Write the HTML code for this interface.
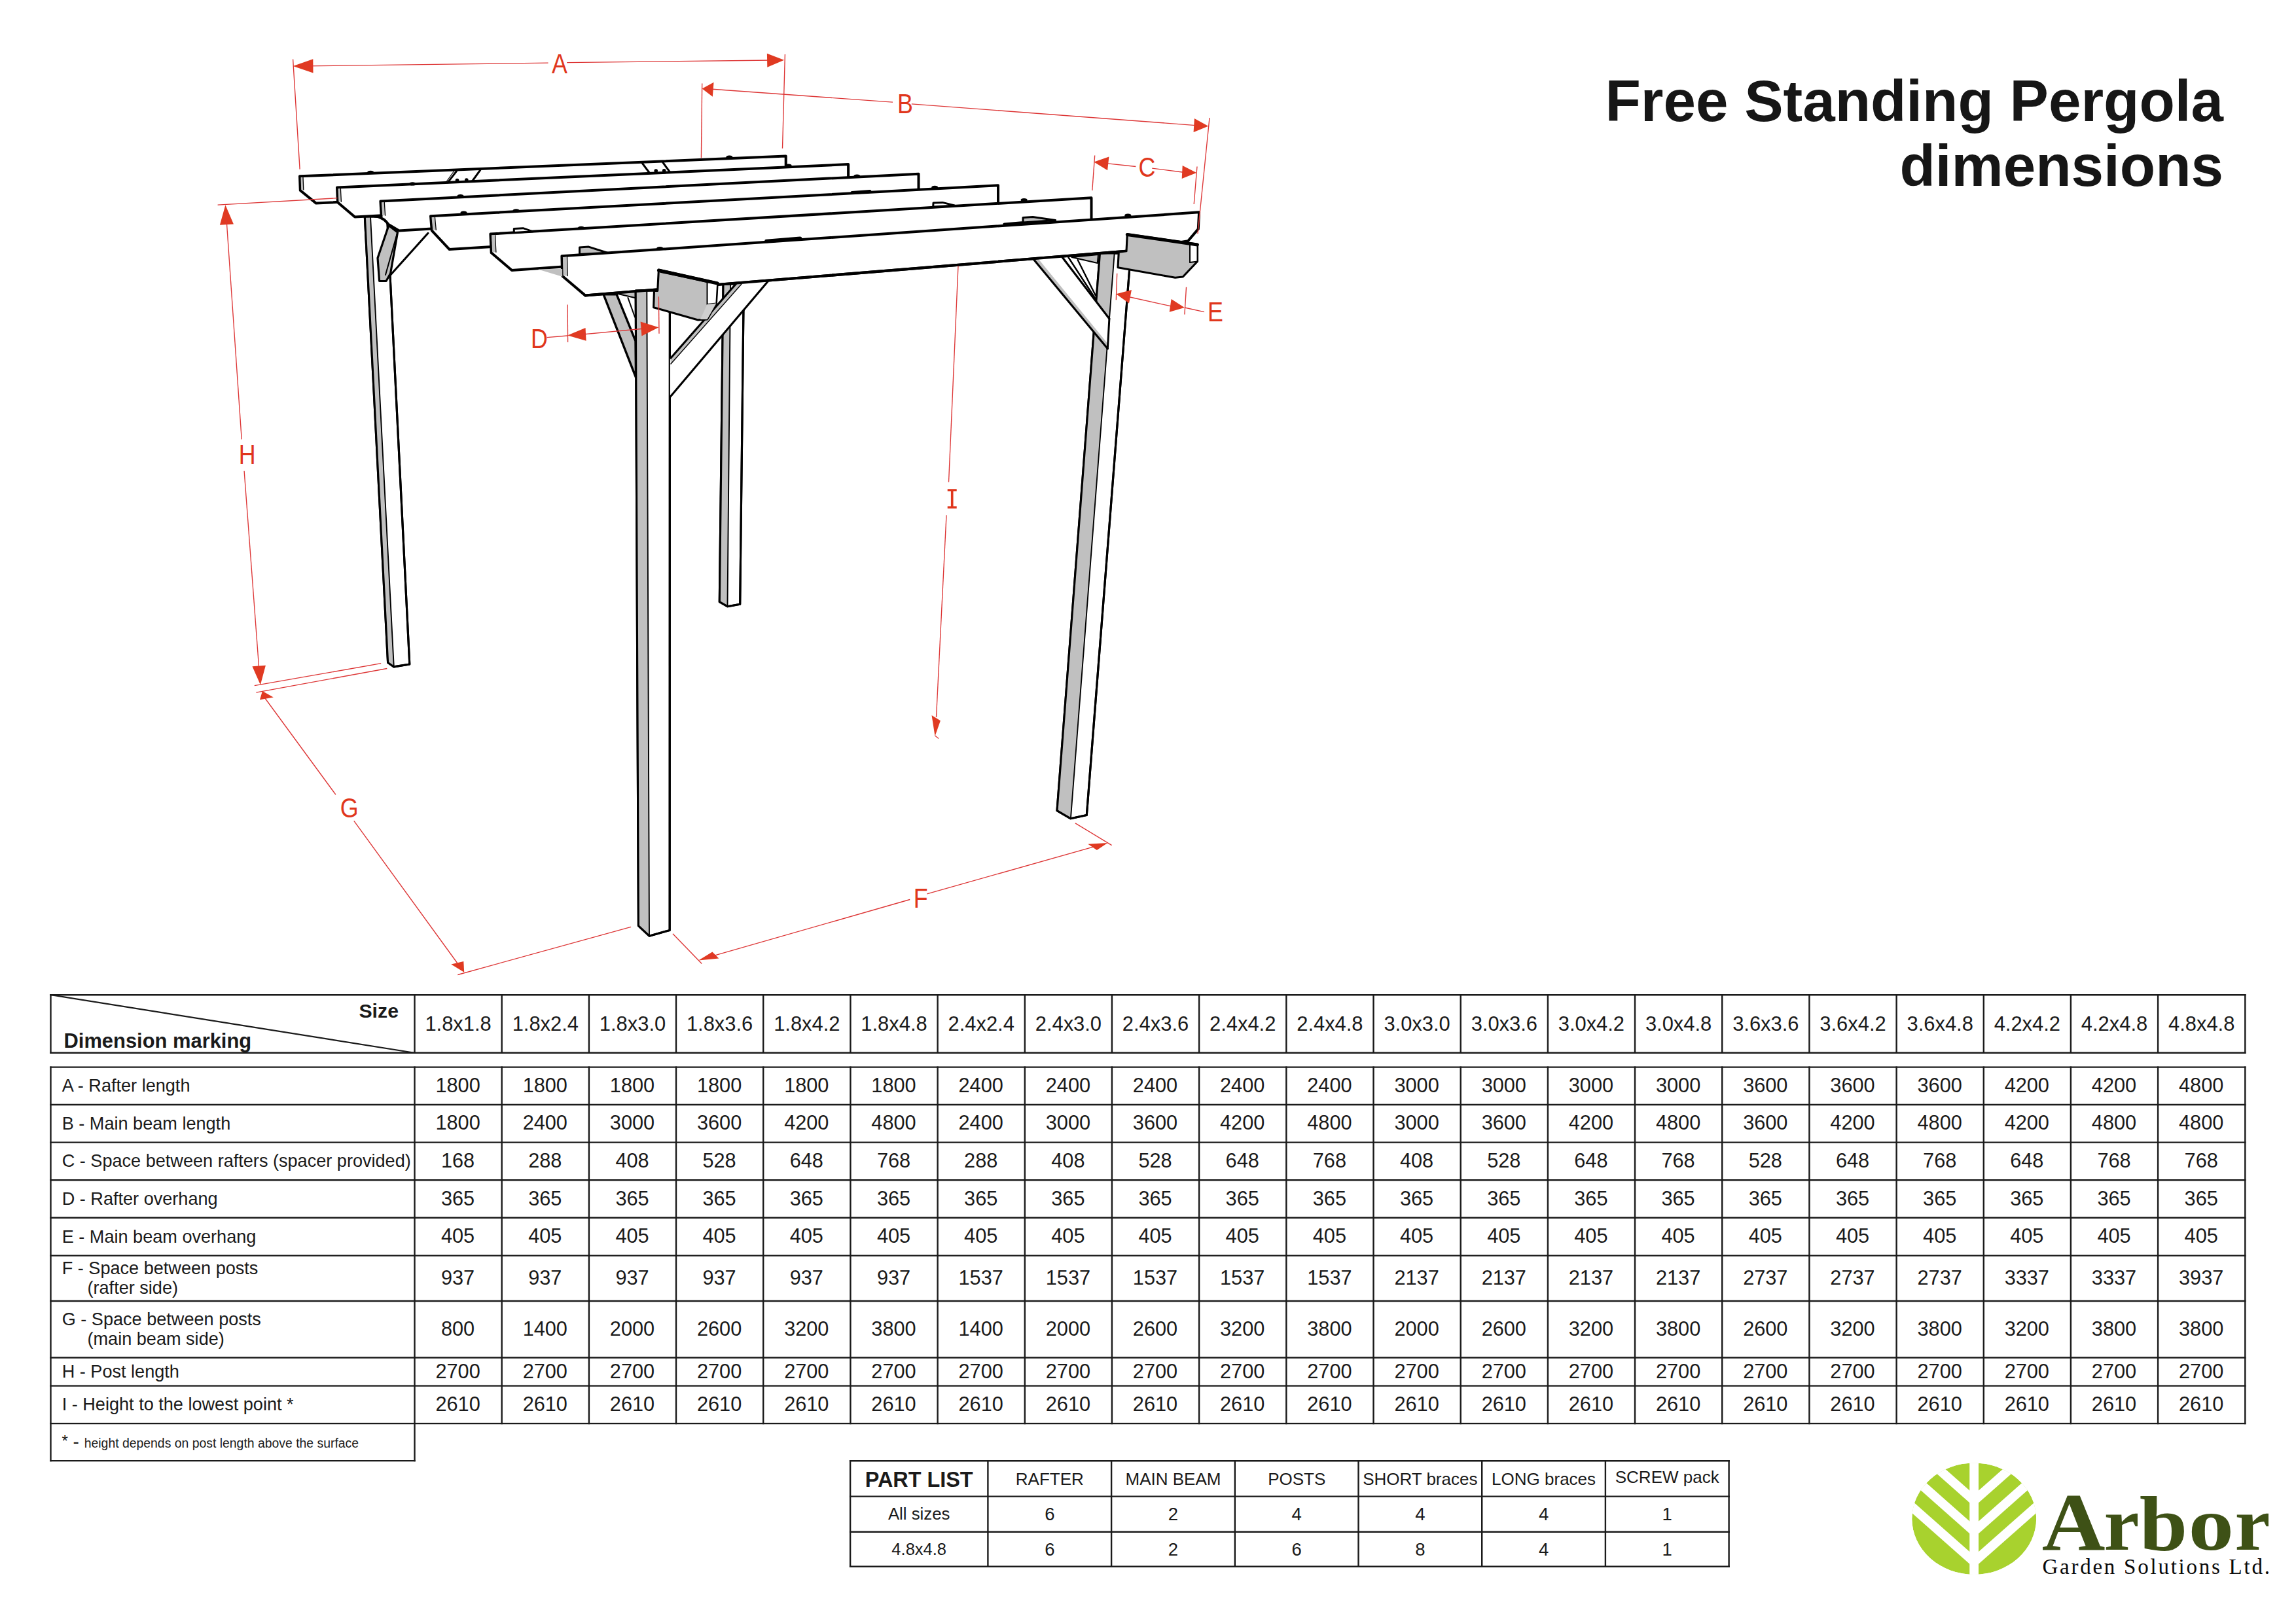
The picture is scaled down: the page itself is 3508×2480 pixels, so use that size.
<!DOCTYPE html><html><head><meta charset="utf-8"><title>Free Standing Pergola dimensions</title>
<style>html,body{margin:0;padding:0;background:#fff;}body{width:3508px;height:2480px;overflow:hidden;position:relative;font-family:"Liberation Sans",sans-serif;}svg{position:absolute;left:0;top:0;}</style></head><body>
<svg width="3508" height="2480" viewBox="0 0 3508 2480" font-family="Liberation Sans, sans-serif" fill="#1a1a1a">
<rect width="3508" height="2480" fill="#fff"/>
<g id="drawing">
<polygon points="1105.0,434.0 1136.4,434.0 1130.7,923.2 1111.5,926.7 1099.3,919.7" fill="#fff" stroke="#000" stroke-width="3.1" stroke-linejoin="round"/>
<polygon points="1105.0,434.0 1116.0,434.0 1111.5,926.7 1099.3,919.7" fill="#c0c0c0"/>
<line x1="1116.0" y1="434.0" x2="1111.5" y2="926.7" stroke="#000" stroke-width="1.9" stroke-linecap="round"/>
<polygon points="1105.0,434.0 1136.4,434.0 1130.7,923.2 1111.5,926.7 1099.3,919.7" fill="none" stroke="#000" stroke-width="3.1" stroke-linejoin="round"/>
<polygon points="557.3,331.0 591.5,331.0 625.8,1015.0 601.8,1018.9 592.6,1012.4" fill="#fff" stroke="#000" stroke-width="3.1" stroke-linejoin="round"/>
<polygon points="557.3,331.0 566.0,331.0 601.8,1018.9 592.6,1012.4" fill="#c0c0c0"/>
<line x1="566.0" y1="331.0" x2="601.8" y2="1018.9" stroke="#000" stroke-width="1.9" stroke-linecap="round"/>
<polygon points="557.3,331.0 591.5,331.0 625.8,1015.0 601.8,1018.9 592.6,1012.4" fill="none" stroke="#000" stroke-width="3.1" stroke-linejoin="round"/>
<polygon points="593.9,344.5 607.5,355.0 596.6,417.7 590.0,429.5 579.6,429.5 577.0,394.2" fill="#c0c0c0" stroke="#000" stroke-width="3.2" stroke-linejoin="round"/>
<line x1="607.0" y1="356.0" x2="589.0" y2="420.0" stroke="#000" stroke-width="2" stroke-linecap="round"/>
<line x1="654.0" y1="356.3" x2="596.5" y2="420.3" stroke="#000" stroke-width="3.1" stroke-linecap="round"/>
<polygon points="458.0,269.3 1200.7,238.6 1200.7,274.6 483.0,310.6 458.8,291.0" fill="#fff" stroke="#000" stroke-width="4.0" stroke-linejoin="round"/>
<polygon points="459.5,271.3 463.0,271.3 463.8,290.0 460.3,290.0" fill="#c0c0c0"/>
<line x1="463.0" y1="271.3" x2="463.8" y2="290.0" stroke="#000" stroke-width="1.3" stroke-linecap="round"/>
<polygon points="515.0,286.5 1296.1,251.1 1296.1,290.4 542.2,331.5 516.0,309.2" fill="#fff" stroke="#000" stroke-width="4.0" stroke-linejoin="round"/>
<polygon points="516.5,288.5 520.4,288.5 521.4,308.2 517.5,308.2" fill="#c0c0c0"/>
<line x1="520.4" y1="288.5" x2="521.4" y2="308.2" stroke="#000" stroke-width="1.3" stroke-linecap="round"/>
<polygon points="581.4,307.4 1403.5,265.7 1403.5,305.2 609.6,352.4 593.2,342.6 590.5,339.2 587.0,335.8 582.4,333.2 577.0,331.0 572.5,330.4 582.7,330.2" fill="#fff" stroke="#000" stroke-width="4.0" stroke-linejoin="round"/>
<polygon points="582.9,309.4 587.3,309.4 588.6,329.2 584.2,329.2" fill="#c0c0c0"/>
<line x1="587.3" y1="309.4" x2="588.6" y2="329.2" stroke="#000" stroke-width="1.3" stroke-linecap="round"/>
<polygon points="658.0,330.2 1525.0,283.2 1525.0,327.8 686.7,381.1 659.8,352.4" fill="#fff" stroke="#000" stroke-width="4.0" stroke-linejoin="round"/>
<polygon points="659.5,332.2 664.5,332.2 666.3,351.4 661.3,351.4" fill="#c0c0c0"/>
<line x1="664.5" y1="332.2" x2="666.3" y2="351.4" stroke="#000" stroke-width="1.3" stroke-linecap="round"/>
<polygon points="749.4,357.6 1667.5,302.3 1667.5,351.1 782.0,413.0 750.7,386.3" fill="#fff" stroke="#000" stroke-width="4.0" stroke-linejoin="round"/>
<polygon points="750.9,359.6 756.6,359.6 757.9,385.3 752.2,385.3" fill="#c0c0c0"/>
<line x1="756.6" y1="359.6" x2="757.9" y2="385.3" stroke="#000" stroke-width="1.3" stroke-linecap="round"/>
<line x1="697.5" y1="261.6" x2="684.1" y2="278.9" stroke="#000" stroke-width="3" stroke-linecap="round"/>
<line x1="694.0" y1="261.0" x2="681.0" y2="279.0" stroke="#000" stroke-width="1.2" stroke-linecap="round"/>
<line x1="733.9" y1="259.7" x2="721.4" y2="277.0" stroke="#000" stroke-width="3" stroke-linecap="round"/>
<circle cx="698.5" cy="275.5" r="2.8" fill="#000"/><circle cx="712.8" cy="275" r="2.8" fill="#000"/>
<line x1="981.1" y1="249.2" x2="992.6" y2="264.5" stroke="#000" stroke-width="3" stroke-linecap="round"/>
<line x1="1012.7" y1="248.2" x2="1023.3" y2="262.6" stroke="#000" stroke-width="3" stroke-linecap="round"/>
<circle cx="1002.2" cy="261" r="2.8" fill="#000"/><circle cx="1014.7" cy="260.7" r="2.8" fill="#000"/>
<polygon points="858.4,391.3 1832.1,324.3 1830.8,349.9 1815.1,368.2 1719.7,383.8 894.1,451.4 859.2,421.8" fill="#fff" stroke="#000" stroke-width="4.0" stroke-linejoin="round"/>
<polygon points="860.0,393.0 866.5,392.5 867.2,421.5 860.5,421.0" fill="#c0c0c0"/>
<line x1="866.5" y1="392.5" x2="867.2" y2="421.5" stroke="#000" stroke-width="1.3" stroke-linecap="round"/>
<polygon points="822.0,411.4 859.2,422.7 859.2,411.0" fill="#c0c0c0"/>
<polygon points="940.0,448.0 985.0,444.0 970.0,455.0" fill="#c0c0c0" stroke="#000" stroke-width="2" stroke-linejoin="round"/>
<polygon points="922.0,449.7 942.0,449.7 971.0,521.0 971.6,576.9" fill="#c0c0c0" stroke="#000" stroke-width="3.4" stroke-linejoin="round"/>
<line x1="959.4" y1="454.9" x2="970.0" y2="484.5" stroke="#000" stroke-width="2" stroke-linecap="round"/>
<polygon points="971.2,444.0 1023.4,444.0 1023.2,1421.5 992.0,1430.2 975.4,1414.6" fill="#fff" stroke="#000" stroke-width="3.1" stroke-linejoin="round"/>
<polygon points="971.2,444.0 988.3,444.0 992.0,1430.2 975.4,1414.6" fill="#c0c0c0"/>
<line x1="988.3" y1="444.0" x2="992.0" y2="1430.2" stroke="#000" stroke-width="1.9" stroke-linecap="round"/>
<polygon points="971.2,444.0 1023.4,444.0 1023.2,1421.5 992.0,1430.2 975.4,1414.6" fill="none" stroke="#000" stroke-width="3.1" stroke-linejoin="round"/>
<polygon points="1125.8,432.3 1172.8,430.5 1023.9,606.5 1023.9,547.2" fill="#fff"/>
<polygon points="1125.8,432.3 1133.0,434.0 1025.0,556.0 1024.5,547.5" fill="#c0c0c0"/>
<line x1="1133.0" y1="434.0" x2="1025.0" y2="556.0" stroke="#000" stroke-width="1.4" stroke-linecap="round"/>
<line x1="1125.8" y1="432.3" x2="1024.7" y2="547.2" stroke="#000" stroke-width="3.1" stroke-linecap="round"/>
<line x1="1172.8" y1="430.5" x2="1023.9" y2="606.5" stroke="#000" stroke-width="3.1" stroke-linecap="round"/>
<polygon points="1637.4,393.0 1678.0,389.0 1676.8,402.0" fill="#c0c0c0" stroke="#000" stroke-width="2" stroke-linejoin="round"/>
<line x1="1632.2" y1="393.0" x2="1674.0" y2="457.0" stroke="#000" stroke-width="2.4" stroke-linecap="round"/>
<line x1="1646.6" y1="397.0" x2="1674.0" y2="451.7" stroke="#000" stroke-width="2.4" stroke-linecap="round"/>
<polygon points="1680.5,387.0 1727.6,387.0 1660.3,1245.6 1635.9,1250.8 1615.0,1238.6" fill="#fff" stroke="#000" stroke-width="3.1" stroke-linejoin="round"/>
<polygon points="1680.5,387.0 1702.7,387.0 1635.9,1250.8 1615.0,1238.6" fill="#c0c0c0"/>
<line x1="1702.7" y1="387.0" x2="1635.9" y2="1250.8" stroke="#000" stroke-width="1.9" stroke-linecap="round"/>
<polygon points="1680.5,387.0 1727.6,387.0 1660.3,1245.6 1635.9,1250.8 1615.0,1238.6" fill="none" stroke="#000" stroke-width="3.1" stroke-linejoin="round"/>
<polygon points="1578.6,395.6 1623.0,393.0 1694.9,487.0 1692.3,532.8" fill="#fff"/>
<polygon points="1578.6,395.6 1586.0,395.0 1694.0,527.0 1692.3,532.8" fill="#c0c0c0"/>
<line x1="1578.6" y1="395.6" x2="1692.3" y2="532.8" stroke="#000" stroke-width="3.1" stroke-linecap="round"/>
<line x1="1623.0" y1="393.0" x2="1694.9" y2="487.0" stroke="#000" stroke-width="3.1" stroke-linecap="round"/>
<line x1="1694.9" y1="487.0" x2="1692.3" y2="532.8" stroke="#000" stroke-width="3" stroke-linecap="round"/>
<polygon points="785.3,355.5 785.3,349.6 799.2,348.7 814.0,353.8" fill="#fff" stroke="#000" stroke-width="3" stroke-linejoin="round"/>
<polygon points="1425.7,316.0 1426.0,310.0 1440.0,309.4 1458.4,314.0" fill="#fff" stroke="#000" stroke-width="3" stroke-linejoin="round"/>
<polygon points="885.5,388.5 885.5,377.9 899.4,377.1 928.0,386.2" fill="#c0c0c0" stroke="#000" stroke-width="3" stroke-linejoin="round"/>
<polygon points="1563.0,340.0 1563.0,332.5 1578.0,331.6 1612.6,336.6" fill="#c0c0c0" stroke="#000" stroke-width="3" stroke-linejoin="round"/>
<line x1="1171.0" y1="368.4" x2="1222.6" y2="364.2" stroke="#000" stroke-width="5.5" stroke-linecap="round"/>
<ellipse cx="566.2" cy="263.3" rx="5" ry="2.6" fill="#000"/>
<ellipse cx="1114.4" cy="240.2" rx="5" ry="2.6" fill="#000"/>
<ellipse cx="630.3" cy="280.9" rx="5" ry="2.6" fill="#000"/>
<ellipse cx="1204.6" cy="253.2" rx="5" ry="2.6" fill="#000"/>
<ellipse cx="703.5" cy="299.7" rx="5" ry="2.6" fill="#000"/>
<ellipse cx="1309.4" cy="269.2" rx="5" ry="2.6" fill="#000"/>
<ellipse cx="708.5" cy="325.0" rx="5" ry="2.6" fill="#000"/>
<ellipse cx="788.6" cy="321.8" rx="5" ry="2.6" fill="#000"/>
<ellipse cx="1428.2" cy="286.4" rx="5" ry="2.6" fill="#000"/>
<ellipse cx="888" cy="348.4" rx="5" ry="2.6" fill="#000"/>
<ellipse cx="1564.6" cy="305.59999999999997" rx="5" ry="2.6" fill="#000"/>
<ellipse cx="1008.2" cy="379.5" rx="5" ry="2.6" fill="#000"/>
<ellipse cx="1723.3" cy="329.2" rx="5" ry="2.6" fill="#000"/>
<line x1="1302.0" y1="294.5" x2="1329.0" y2="292.5" stroke="#000" stroke-width="5" stroke-linecap="round"/>
<line x1="1535.0" y1="343.3" x2="1561.0" y2="341.0" stroke="#000" stroke-width="5.5" stroke-linecap="round"/>
<line x1="894.1" y1="451.4" x2="1719.7" y2="383.8" stroke="#000" stroke-width="4.0" stroke-linecap="round"/>
<polygon points="1006.4,412.2 1096.2,432.3 1094.4,463.6 1080.5,488.0 1066.6,488.9 998.6,469.7 999.5,444.5 1004.7,444.5" fill="#c0c0c0" stroke="#000" stroke-width="3.1" stroke-linejoin="round"/>
<polygon points="1080.5,430.0 1096.2,432.3 1094.4,463.6 1080.5,465.0" fill="#fff" stroke="#000" stroke-width="2" stroke-linejoin="round"/>
<polygon points="1080.5,465.0 1094.4,463.6 1080.5,488.0 1070.0,488.0" fill="#d0d0d0"/>
<line x1="1009.0" y1="416.0" x2="1084.0" y2="432.0" stroke="#000" stroke-width="1.6" stroke-linecap="round"/>
<line x1="1006.4" y1="413.0" x2="1096.2" y2="433.0" stroke="#000" stroke-width="5" stroke-linecap="round"/>
<polygon points="1722.3,357.7 1829.5,373.4 1829.5,399.5 1807.3,423.0 1795.5,424.3 1708.0,408.7 1709.3,385.1 1721.0,383.8" fill="#c0c0c0" stroke="#000" stroke-width="3.1" stroke-linejoin="round"/>
<polygon points="1818.0,372.0 1829.5,373.4 1829.5,399.5 1818.0,401.0" fill="#fff" stroke="#000" stroke-width="2" stroke-linejoin="round"/>
<line x1="1722.3" y1="358.5" x2="1829.5" y2="374.0" stroke="#000" stroke-width="5" stroke-linecap="round"/>
</g>
<g id="dims">
<line x1="447.6" y1="90.5" x2="458.1" y2="258.7" stroke="#dd3535" stroke-width="1.35"/>
<polygon points="447.6,101.0 478.3,90.2 478.5,111.4" fill="#e03a22"/>
<line x1="470.0" y1="100.9" x2="837.5" y2="96.2" stroke="#dd3535" stroke-width="1.35"/>
<line x1="866.2" y1="95.7" x2="1180.0" y2="92.0" stroke="#dd3535" stroke-width="1.35"/>
<polygon points="1198.1,91.7 1172.3,102.7 1171.9,81.7" fill="#e03a22"/>
<line x1="1199.4" y1="83.1" x2="1195.5" y2="226.8" stroke="#dd3535" stroke-width="1.35"/>
<text transform="translate(855.0,112.0) scale(0.86,1)" font-size="41.7" fill="#e0361c" text-anchor="middle">A</text>
<line x1="1072.7" y1="127.5" x2="1071.4" y2="241.2" stroke="#dd3535" stroke-width="1.35"/>
<polygon points="1072.7,135.4 1090.5,125.7 1088.8,147.7" fill="#e03a22"/>
<line x1="1085.0" y1="136.0" x2="1364.0" y2="156.2" stroke="#dd3535" stroke-width="1.35"/>
<line x1="1392.8" y1="158.8" x2="1830.0" y2="191.8" stroke="#dd3535" stroke-width="1.35"/>
<polygon points="1846.2,192.8 1823.6,201.9 1824.9,180.9" fill="#e03a22"/>
<line x1="1848.0" y1="180.0" x2="1830.0" y2="357.0" stroke="#dd3535" stroke-width="1.35"/>
<text transform="translate(1383.0,173.2) scale(0.86,1)" font-size="41.7" fill="#e0361c" text-anchor="middle">B</text>
<line x1="1672.7" y1="237.5" x2="1668.8" y2="291.0" stroke="#dd3535" stroke-width="1.35"/>
<polygon points="1671.4,247.4 1694.4,239.4 1692.1,260.3" fill="#e03a22"/>
<line x1="1690.0" y1="249.6" x2="1735.4" y2="254.5" stroke="#dd3535" stroke-width="1.35"/>
<line x1="1760.2" y1="257.1" x2="1810.0" y2="263.5" stroke="#dd3535" stroke-width="1.35"/>
<polygon points="1828.2,264.1 1805.7,273.0 1806.7,253.0" fill="#e03a22"/>
<line x1="1829.0" y1="254.5" x2="1824.2" y2="312.0" stroke="#dd3535" stroke-width="1.35"/>
<text transform="translate(1752.5,270.2) scale(0.86,1)" font-size="41.7" fill="#e0361c" text-anchor="middle">C</text>
<line x1="867.1" y1="465.4" x2="867.6" y2="522.9" stroke="#dd3535" stroke-width="1.35"/>
<line x1="835.6" y1="515.7" x2="867.0" y2="513.0" stroke="#dd3535" stroke-width="1.35"/>
<polygon points="867.1,512.4 894.5,500.9 895.6,520.8" fill="#e03a22"/>
<line x1="890.0" y1="511.0" x2="985.0" y2="502.0" stroke="#dd3535" stroke-width="1.35"/>
<polygon points="1006.4,500.2 980.4,513.4 978.6,491.4" fill="#e03a22"/>
<line x1="1006.4" y1="453.2" x2="1007.0" y2="509.8" stroke="#dd3535" stroke-width="1.35"/>
<text transform="translate(824.0,531.6) scale(0.86,1)" font-size="41.7" fill="#e0361c" text-anchor="middle">D</text>
<line x1="1706.7" y1="417.8" x2="1705.3" y2="458.3" stroke="#dd3535" stroke-width="1.35"/>
<polygon points="1705.3,449.2 1728.9,443.0 1725.0,463.6" fill="#e03a22"/>
<line x1="1722.0" y1="453.0" x2="1792.0" y2="468.5" stroke="#dd3535" stroke-width="1.35"/>
<polygon points="1809.9,470.0 1786.7,476.8 1789.6,457.0" fill="#e03a22"/>
<line x1="1812.5" y1="438.7" x2="1809.9" y2="480.5" stroke="#dd3535" stroke-width="1.35"/>
<line x1="1809.9" y1="470.0" x2="1839.9" y2="476.6" stroke="#dd3535" stroke-width="1.35"/>
<text transform="translate(1857.0,491.0) scale(0.86,1)" font-size="41.7" fill="#e0361c" text-anchor="middle">E</text>
<line x1="332.6" y1="313.2" x2="515.5" y2="302.7" stroke="#dd3535" stroke-width="1.35"/>
<polygon points="344.4,313.2 356.9,342.4 335.9,343.8" fill="#e03a22"/>
<line x1="346.0" y1="335.0" x2="369.2" y2="671.4" stroke="#dd3535" stroke-width="1.35"/>
<line x1="373.1" y1="719.7" x2="396.0" y2="1025.0" stroke="#dd3535" stroke-width="1.35"/>
<polygon points="397.9,1046.4 385.5,1018.3 405.9,1016.7" fill="#e03a22"/>
<text transform="translate(377.7,709.2) scale(0.86,1)" font-size="41.7" fill="#e0361c" text-anchor="middle">H</text>
<line x1="388.8" y1="1047.7" x2="582.2" y2="1013.7" stroke="#dd3535" stroke-width="1.35"/>
<line x1="391.4" y1="1058.1" x2="591.3" y2="1021.5" stroke="#dd3535" stroke-width="1.35"/>
<polygon points="400.9,1056.1 397.0,1069.2 417.8,1065.5" fill="#e03a22"/>
<line x1="405.0" y1="1067.0" x2="512.9" y2="1214.2" stroke="#dd3535" stroke-width="1.35"/>
<line x1="540.8" y1="1254.3" x2="699.0" y2="1472.0" stroke="#dd3535" stroke-width="1.35"/>
<polygon points="709.2,1485.8 689.3,1473.5 708.3,1468.9" fill="#e03a22"/>
<text transform="translate(533.8,1249.0) scale(0.86,1)" font-size="41.7" fill="#e0361c" text-anchor="middle">G</text>
<line x1="699.3" y1="1489.5" x2="964.1" y2="1416.3" stroke="#dd3535" stroke-width="1.35"/>
<line x1="1027.9" y1="1426.8" x2="1072.2" y2="1472.5" stroke="#dd3535" stroke-width="1.35"/>
<polygon points="1067.2,1467.5 1088.4,1454.5 1098.3,1464.6" fill="#e03a22"/>
<line x1="1080.0" y1="1463.4" x2="1390.2" y2="1374.5" stroke="#dd3535" stroke-width="1.35"/>
<line x1="1416.4" y1="1365.8" x2="1680.0" y2="1291.4" stroke="#dd3535" stroke-width="1.35"/>
<polygon points="1692.4,1287.9 1662.3,1289.7 1675.9,1299.1" fill="#e03a22"/>
<line x1="1642.9" y1="1257.8" x2="1698.6" y2="1291.6" stroke="#dd3535" stroke-width="1.35"/>
<text transform="translate(1406.8,1386.7) scale(0.86,1)" font-size="41.7" fill="#e0361c" text-anchor="middle">F</text>
<line x1="1464.0" y1="406.4" x2="1449.5" y2="736.8" stroke="#dd3535" stroke-width="1.35"/>
<line x1="1446.0" y1="787.3" x2="1430.5" y2="1096.0" stroke="#dd3535" stroke-width="1.35"/>
<polygon points="1428.5,1125.0 1423.5,1093.0 1436.9,1101.2" fill="#e03a22"/>
<line x1="1428.5" y1="1124.0" x2="1434.0" y2="1128.5" stroke="#dd3535" stroke-width="1.2"/>
<path d="M1447.7,747.2h14v3.4h-5.2v22.9h5.2v3.4h-14v-3.4h5.2v-22.9h-5.2z" fill="#e0361c"/>
</g>
<text x="3397" y="185.2" font-size="89" font-weight="bold" text-anchor="end" fill="#161616">Free Standing Pergola</text>
<text x="3397" y="284.1" font-size="89" font-weight="bold" text-anchor="end" fill="#161616">dimensions</text>
<g id="tables">
<line x1="77.5" y1="1520.2" x2="3430.3" y2="1520.2" stroke="#1a1a1a" stroke-width="2.4" stroke-linecap="square"/>
<line x1="77.5" y1="1608.8" x2="3430.3" y2="1608.8" stroke="#1a1a1a" stroke-width="2.4" stroke-linecap="square"/>
<line x1="77.5" y1="1520.2" x2="77.5" y2="1608.8" stroke="#1a1a1a" stroke-width="2.4" stroke-linecap="square"/>
<line x1="633.5" y1="1520.2" x2="633.5" y2="1608.8" stroke="#1a1a1a" stroke-width="2.4" stroke-linecap="square"/>
<line x1="766.7" y1="1520.2" x2="766.7" y2="1608.8" stroke="#1a1a1a" stroke-width="2.4" stroke-linecap="square"/>
<line x1="899.9" y1="1520.2" x2="899.9" y2="1608.8" stroke="#1a1a1a" stroke-width="2.4" stroke-linecap="square"/>
<line x1="1033.0" y1="1520.2" x2="1033.0" y2="1608.8" stroke="#1a1a1a" stroke-width="2.4" stroke-linecap="square"/>
<line x1="1166.2" y1="1520.2" x2="1166.2" y2="1608.8" stroke="#1a1a1a" stroke-width="2.4" stroke-linecap="square"/>
<line x1="1299.4" y1="1520.2" x2="1299.4" y2="1608.8" stroke="#1a1a1a" stroke-width="2.4" stroke-linecap="square"/>
<line x1="1432.6" y1="1520.2" x2="1432.6" y2="1608.8" stroke="#1a1a1a" stroke-width="2.4" stroke-linecap="square"/>
<line x1="1565.8" y1="1520.2" x2="1565.8" y2="1608.8" stroke="#1a1a1a" stroke-width="2.4" stroke-linecap="square"/>
<line x1="1698.9" y1="1520.2" x2="1698.9" y2="1608.8" stroke="#1a1a1a" stroke-width="2.4" stroke-linecap="square"/>
<line x1="1832.1" y1="1520.2" x2="1832.1" y2="1608.8" stroke="#1a1a1a" stroke-width="2.4" stroke-linecap="square"/>
<line x1="1965.3" y1="1520.2" x2="1965.3" y2="1608.8" stroke="#1a1a1a" stroke-width="2.4" stroke-linecap="square"/>
<line x1="2098.5" y1="1520.2" x2="2098.5" y2="1608.8" stroke="#1a1a1a" stroke-width="2.4" stroke-linecap="square"/>
<line x1="2231.7" y1="1520.2" x2="2231.7" y2="1608.8" stroke="#1a1a1a" stroke-width="2.4" stroke-linecap="square"/>
<line x1="2364.9" y1="1520.2" x2="2364.9" y2="1608.8" stroke="#1a1a1a" stroke-width="2.4" stroke-linecap="square"/>
<line x1="2498.0" y1="1520.2" x2="2498.0" y2="1608.8" stroke="#1a1a1a" stroke-width="2.4" stroke-linecap="square"/>
<line x1="2631.2" y1="1520.2" x2="2631.2" y2="1608.8" stroke="#1a1a1a" stroke-width="2.4" stroke-linecap="square"/>
<line x1="2764.4" y1="1520.2" x2="2764.4" y2="1608.8" stroke="#1a1a1a" stroke-width="2.4" stroke-linecap="square"/>
<line x1="2897.6" y1="1520.2" x2="2897.6" y2="1608.8" stroke="#1a1a1a" stroke-width="2.4" stroke-linecap="square"/>
<line x1="3030.8" y1="1520.2" x2="3030.8" y2="1608.8" stroke="#1a1a1a" stroke-width="2.4" stroke-linecap="square"/>
<line x1="3163.9" y1="1520.2" x2="3163.9" y2="1608.8" stroke="#1a1a1a" stroke-width="2.4" stroke-linecap="square"/>
<line x1="3297.1" y1="1520.2" x2="3297.1" y2="1608.8" stroke="#1a1a1a" stroke-width="2.4" stroke-linecap="square"/>
<line x1="3430.3" y1="1520.2" x2="3430.3" y2="1608.8" stroke="#1a1a1a" stroke-width="2.4" stroke-linecap="square"/>
<line x1="77.5" y1="1520.2" x2="633.5" y2="1608.8" stroke="#1a1a1a" stroke-width="2.2" stroke-linecap="square"/>
<text x="609" y="1554.6" font-size="30.3" font-weight="bold" text-anchor="end">Size</text>
<text x="97.5" y="1600.5" font-size="30.9" font-weight="bold">Dimension marking</text>
<text x="700.1" y="1575.3" font-size="30.9" text-anchor="middle">1.8x1.8</text>
<text x="833.3" y="1575.3" font-size="30.9" text-anchor="middle">1.8x2.4</text>
<text x="966.5" y="1575.3" font-size="30.9" text-anchor="middle">1.8x3.0</text>
<text x="1099.6" y="1575.3" font-size="30.9" text-anchor="middle">1.8x3.6</text>
<text x="1232.8" y="1575.3" font-size="30.9" text-anchor="middle">1.8x4.2</text>
<text x="1366.0" y="1575.3" font-size="30.9" text-anchor="middle">1.8x4.8</text>
<text x="1499.2" y="1575.3" font-size="30.9" text-anchor="middle">2.4x2.4</text>
<text x="1632.4" y="1575.3" font-size="30.9" text-anchor="middle">2.4x3.0</text>
<text x="1765.5" y="1575.3" font-size="30.9" text-anchor="middle">2.4x3.6</text>
<text x="1898.7" y="1575.3" font-size="30.9" text-anchor="middle">2.4x4.2</text>
<text x="2031.9" y="1575.3" font-size="30.9" text-anchor="middle">2.4x4.8</text>
<text x="2165.1" y="1575.3" font-size="30.9" text-anchor="middle">3.0x3.0</text>
<text x="2298.3" y="1575.3" font-size="30.9" text-anchor="middle">3.0x3.6</text>
<text x="2431.4" y="1575.3" font-size="30.9" text-anchor="middle">3.0x4.2</text>
<text x="2564.6" y="1575.3" font-size="30.9" text-anchor="middle">3.0x4.8</text>
<text x="2697.8" y="1575.3" font-size="30.9" text-anchor="middle">3.6x3.6</text>
<text x="2831.0" y="1575.3" font-size="30.9" text-anchor="middle">3.6x4.2</text>
<text x="2964.2" y="1575.3" font-size="30.9" text-anchor="middle">3.6x4.8</text>
<text x="3097.3" y="1575.3" font-size="30.9" text-anchor="middle">4.2x4.2</text>
<text x="3230.5" y="1575.3" font-size="30.9" text-anchor="middle">4.2x4.8</text>
<text x="3363.7" y="1575.3" font-size="30.9" text-anchor="middle">4.8x4.8</text>
<line x1="77.5" y1="1630.6" x2="3430.3" y2="1630.6" stroke="#1a1a1a" stroke-width="2.4" stroke-linecap="square"/>
<line x1="77.5" y1="1688.0" x2="3430.3" y2="1688.0" stroke="#1a1a1a" stroke-width="2.4" stroke-linecap="square"/>
<line x1="77.5" y1="1745.6" x2="3430.3" y2="1745.6" stroke="#1a1a1a" stroke-width="2.4" stroke-linecap="square"/>
<line x1="77.5" y1="1803.2" x2="3430.3" y2="1803.2" stroke="#1a1a1a" stroke-width="2.4" stroke-linecap="square"/>
<line x1="77.5" y1="1860.8" x2="3430.3" y2="1860.8" stroke="#1a1a1a" stroke-width="2.4" stroke-linecap="square"/>
<line x1="77.5" y1="1918.6" x2="3430.3" y2="1918.6" stroke="#1a1a1a" stroke-width="2.4" stroke-linecap="square"/>
<line x1="77.5" y1="1988.0" x2="3430.3" y2="1988.0" stroke="#1a1a1a" stroke-width="2.4" stroke-linecap="square"/>
<line x1="77.5" y1="2074.5" x2="3430.3" y2="2074.5" stroke="#1a1a1a" stroke-width="2.4" stroke-linecap="square"/>
<line x1="77.5" y1="2117.6" x2="3430.3" y2="2117.6" stroke="#1a1a1a" stroke-width="2.4" stroke-linecap="square"/>
<line x1="77.5" y1="2175.1" x2="3430.3" y2="2175.1" stroke="#1a1a1a" stroke-width="2.4" stroke-linecap="square"/>
<line x1="77.5" y1="2232.1" x2="633.5" y2="2232.1" stroke="#1a1a1a" stroke-width="2.4" stroke-linecap="square"/>
<line x1="77.5" y1="1630.6" x2="77.5" y2="2232.1" stroke="#1a1a1a" stroke-width="2.4" stroke-linecap="square"/>
<line x1="633.5" y1="1630.6" x2="633.5" y2="2232.1" stroke="#1a1a1a" stroke-width="2.4" stroke-linecap="square"/>
<line x1="766.7" y1="1630.6" x2="766.7" y2="2175.1" stroke="#1a1a1a" stroke-width="2.4" stroke-linecap="square"/>
<line x1="899.9" y1="1630.6" x2="899.9" y2="2175.1" stroke="#1a1a1a" stroke-width="2.4" stroke-linecap="square"/>
<line x1="1033.0" y1="1630.6" x2="1033.0" y2="2175.1" stroke="#1a1a1a" stroke-width="2.4" stroke-linecap="square"/>
<line x1="1166.2" y1="1630.6" x2="1166.2" y2="2175.1" stroke="#1a1a1a" stroke-width="2.4" stroke-linecap="square"/>
<line x1="1299.4" y1="1630.6" x2="1299.4" y2="2175.1" stroke="#1a1a1a" stroke-width="2.4" stroke-linecap="square"/>
<line x1="1432.6" y1="1630.6" x2="1432.6" y2="2175.1" stroke="#1a1a1a" stroke-width="2.4" stroke-linecap="square"/>
<line x1="1565.8" y1="1630.6" x2="1565.8" y2="2175.1" stroke="#1a1a1a" stroke-width="2.4" stroke-linecap="square"/>
<line x1="1698.9" y1="1630.6" x2="1698.9" y2="2175.1" stroke="#1a1a1a" stroke-width="2.4" stroke-linecap="square"/>
<line x1="1832.1" y1="1630.6" x2="1832.1" y2="2175.1" stroke="#1a1a1a" stroke-width="2.4" stroke-linecap="square"/>
<line x1="1965.3" y1="1630.6" x2="1965.3" y2="2175.1" stroke="#1a1a1a" stroke-width="2.4" stroke-linecap="square"/>
<line x1="2098.5" y1="1630.6" x2="2098.5" y2="2175.1" stroke="#1a1a1a" stroke-width="2.4" stroke-linecap="square"/>
<line x1="2231.7" y1="1630.6" x2="2231.7" y2="2175.1" stroke="#1a1a1a" stroke-width="2.4" stroke-linecap="square"/>
<line x1="2364.9" y1="1630.6" x2="2364.9" y2="2175.1" stroke="#1a1a1a" stroke-width="2.4" stroke-linecap="square"/>
<line x1="2498.0" y1="1630.6" x2="2498.0" y2="2175.1" stroke="#1a1a1a" stroke-width="2.4" stroke-linecap="square"/>
<line x1="2631.2" y1="1630.6" x2="2631.2" y2="2175.1" stroke="#1a1a1a" stroke-width="2.4" stroke-linecap="square"/>
<line x1="2764.4" y1="1630.6" x2="2764.4" y2="2175.1" stroke="#1a1a1a" stroke-width="2.4" stroke-linecap="square"/>
<line x1="2897.6" y1="1630.6" x2="2897.6" y2="2175.1" stroke="#1a1a1a" stroke-width="2.4" stroke-linecap="square"/>
<line x1="3030.8" y1="1630.6" x2="3030.8" y2="2175.1" stroke="#1a1a1a" stroke-width="2.4" stroke-linecap="square"/>
<line x1="3163.9" y1="1630.6" x2="3163.9" y2="2175.1" stroke="#1a1a1a" stroke-width="2.4" stroke-linecap="square"/>
<line x1="3297.1" y1="1630.6" x2="3297.1" y2="2175.1" stroke="#1a1a1a" stroke-width="2.4" stroke-linecap="square"/>
<line x1="3430.3" y1="1630.6" x2="3430.3" y2="2175.1" stroke="#1a1a1a" stroke-width="2.4" stroke-linecap="square"/>
<text x="94.7" y="1668.3" font-size="27.1">A - Rafter length</text>
<text x="699.6" y="1668.9" font-size="30.7" text-anchor="middle">1800</text>
<text x="832.8" y="1668.9" font-size="30.7" text-anchor="middle">1800</text>
<text x="966.0" y="1668.9" font-size="30.7" text-anchor="middle">1800</text>
<text x="1099.1" y="1668.9" font-size="30.7" text-anchor="middle">1800</text>
<text x="1232.3" y="1668.9" font-size="30.7" text-anchor="middle">1800</text>
<text x="1365.5" y="1668.9" font-size="30.7" text-anchor="middle">1800</text>
<text x="1498.7" y="1668.9" font-size="30.7" text-anchor="middle">2400</text>
<text x="1631.9" y="1668.9" font-size="30.7" text-anchor="middle">2400</text>
<text x="1765.0" y="1668.9" font-size="30.7" text-anchor="middle">2400</text>
<text x="1898.2" y="1668.9" font-size="30.7" text-anchor="middle">2400</text>
<text x="2031.4" y="1668.9" font-size="30.7" text-anchor="middle">2400</text>
<text x="2164.6" y="1668.9" font-size="30.7" text-anchor="middle">3000</text>
<text x="2297.8" y="1668.9" font-size="30.7" text-anchor="middle">3000</text>
<text x="2430.9" y="1668.9" font-size="30.7" text-anchor="middle">3000</text>
<text x="2564.1" y="1668.9" font-size="30.7" text-anchor="middle">3000</text>
<text x="2697.3" y="1668.9" font-size="30.7" text-anchor="middle">3600</text>
<text x="2830.5" y="1668.9" font-size="30.7" text-anchor="middle">3600</text>
<text x="2963.7" y="1668.9" font-size="30.7" text-anchor="middle">3600</text>
<text x="3096.8" y="1668.9" font-size="30.7" text-anchor="middle">4200</text>
<text x="3230.0" y="1668.9" font-size="30.7" text-anchor="middle">4200</text>
<text x="3363.2" y="1668.9" font-size="30.7" text-anchor="middle">4800</text>
<text x="94.7" y="1725.8" font-size="27.1">B - Main beam length</text>
<text x="699.6" y="1726.4" font-size="30.7" text-anchor="middle">1800</text>
<text x="832.8" y="1726.4" font-size="30.7" text-anchor="middle">2400</text>
<text x="966.0" y="1726.4" font-size="30.7" text-anchor="middle">3000</text>
<text x="1099.1" y="1726.4" font-size="30.7" text-anchor="middle">3600</text>
<text x="1232.3" y="1726.4" font-size="30.7" text-anchor="middle">4200</text>
<text x="1365.5" y="1726.4" font-size="30.7" text-anchor="middle">4800</text>
<text x="1498.7" y="1726.4" font-size="30.7" text-anchor="middle">2400</text>
<text x="1631.9" y="1726.4" font-size="30.7" text-anchor="middle">3000</text>
<text x="1765.0" y="1726.4" font-size="30.7" text-anchor="middle">3600</text>
<text x="1898.2" y="1726.4" font-size="30.7" text-anchor="middle">4200</text>
<text x="2031.4" y="1726.4" font-size="30.7" text-anchor="middle">4800</text>
<text x="2164.6" y="1726.4" font-size="30.7" text-anchor="middle">3000</text>
<text x="2297.8" y="1726.4" font-size="30.7" text-anchor="middle">3600</text>
<text x="2430.9" y="1726.4" font-size="30.7" text-anchor="middle">4200</text>
<text x="2564.1" y="1726.4" font-size="30.7" text-anchor="middle">4800</text>
<text x="2697.3" y="1726.4" font-size="30.7" text-anchor="middle">3600</text>
<text x="2830.5" y="1726.4" font-size="30.7" text-anchor="middle">4200</text>
<text x="2963.7" y="1726.4" font-size="30.7" text-anchor="middle">4800</text>
<text x="3096.8" y="1726.4" font-size="30.7" text-anchor="middle">4200</text>
<text x="3230.0" y="1726.4" font-size="30.7" text-anchor="middle">4800</text>
<text x="3363.2" y="1726.4" font-size="30.7" text-anchor="middle">4800</text>
<text x="94.7" y="1783.4" font-size="27.1">C - Space between rafters (spacer provided)</text>
<text x="699.6" y="1784.0" font-size="30.7" text-anchor="middle">168</text>
<text x="832.8" y="1784.0" font-size="30.7" text-anchor="middle">288</text>
<text x="966.0" y="1784.0" font-size="30.7" text-anchor="middle">408</text>
<text x="1099.1" y="1784.0" font-size="30.7" text-anchor="middle">528</text>
<text x="1232.3" y="1784.0" font-size="30.7" text-anchor="middle">648</text>
<text x="1365.5" y="1784.0" font-size="30.7" text-anchor="middle">768</text>
<text x="1498.7" y="1784.0" font-size="30.7" text-anchor="middle">288</text>
<text x="1631.9" y="1784.0" font-size="30.7" text-anchor="middle">408</text>
<text x="1765.0" y="1784.0" font-size="30.7" text-anchor="middle">528</text>
<text x="1898.2" y="1784.0" font-size="30.7" text-anchor="middle">648</text>
<text x="2031.4" y="1784.0" font-size="30.7" text-anchor="middle">768</text>
<text x="2164.6" y="1784.0" font-size="30.7" text-anchor="middle">408</text>
<text x="2297.8" y="1784.0" font-size="30.7" text-anchor="middle">528</text>
<text x="2430.9" y="1784.0" font-size="30.7" text-anchor="middle">648</text>
<text x="2564.1" y="1784.0" font-size="30.7" text-anchor="middle">768</text>
<text x="2697.3" y="1784.0" font-size="30.7" text-anchor="middle">528</text>
<text x="2830.5" y="1784.0" font-size="30.7" text-anchor="middle">648</text>
<text x="2963.7" y="1784.0" font-size="30.7" text-anchor="middle">768</text>
<text x="3096.8" y="1784.0" font-size="30.7" text-anchor="middle">648</text>
<text x="3230.0" y="1784.0" font-size="30.7" text-anchor="middle">768</text>
<text x="3363.2" y="1784.0" font-size="30.7" text-anchor="middle">768</text>
<text x="94.7" y="1841.0" font-size="27.1">D - Rafter overhang</text>
<text x="699.6" y="1841.6" font-size="30.7" text-anchor="middle">365</text>
<text x="832.8" y="1841.6" font-size="30.7" text-anchor="middle">365</text>
<text x="966.0" y="1841.6" font-size="30.7" text-anchor="middle">365</text>
<text x="1099.1" y="1841.6" font-size="30.7" text-anchor="middle">365</text>
<text x="1232.3" y="1841.6" font-size="30.7" text-anchor="middle">365</text>
<text x="1365.5" y="1841.6" font-size="30.7" text-anchor="middle">365</text>
<text x="1498.7" y="1841.6" font-size="30.7" text-anchor="middle">365</text>
<text x="1631.9" y="1841.6" font-size="30.7" text-anchor="middle">365</text>
<text x="1765.0" y="1841.6" font-size="30.7" text-anchor="middle">365</text>
<text x="1898.2" y="1841.6" font-size="30.7" text-anchor="middle">365</text>
<text x="2031.4" y="1841.6" font-size="30.7" text-anchor="middle">365</text>
<text x="2164.6" y="1841.6" font-size="30.7" text-anchor="middle">365</text>
<text x="2297.8" y="1841.6" font-size="30.7" text-anchor="middle">365</text>
<text x="2430.9" y="1841.6" font-size="30.7" text-anchor="middle">365</text>
<text x="2564.1" y="1841.6" font-size="30.7" text-anchor="middle">365</text>
<text x="2697.3" y="1841.6" font-size="30.7" text-anchor="middle">365</text>
<text x="2830.5" y="1841.6" font-size="30.7" text-anchor="middle">365</text>
<text x="2963.7" y="1841.6" font-size="30.7" text-anchor="middle">365</text>
<text x="3096.8" y="1841.6" font-size="30.7" text-anchor="middle">365</text>
<text x="3230.0" y="1841.6" font-size="30.7" text-anchor="middle">365</text>
<text x="3363.2" y="1841.6" font-size="30.7" text-anchor="middle">365</text>
<text x="94.7" y="1898.7" font-size="27.1">E - Main beam overhang</text>
<text x="699.6" y="1899.3" font-size="30.7" text-anchor="middle">405</text>
<text x="832.8" y="1899.3" font-size="30.7" text-anchor="middle">405</text>
<text x="966.0" y="1899.3" font-size="30.7" text-anchor="middle">405</text>
<text x="1099.1" y="1899.3" font-size="30.7" text-anchor="middle">405</text>
<text x="1232.3" y="1899.3" font-size="30.7" text-anchor="middle">405</text>
<text x="1365.5" y="1899.3" font-size="30.7" text-anchor="middle">405</text>
<text x="1498.7" y="1899.3" font-size="30.7" text-anchor="middle">405</text>
<text x="1631.9" y="1899.3" font-size="30.7" text-anchor="middle">405</text>
<text x="1765.0" y="1899.3" font-size="30.7" text-anchor="middle">405</text>
<text x="1898.2" y="1899.3" font-size="30.7" text-anchor="middle">405</text>
<text x="2031.4" y="1899.3" font-size="30.7" text-anchor="middle">405</text>
<text x="2164.6" y="1899.3" font-size="30.7" text-anchor="middle">405</text>
<text x="2297.8" y="1899.3" font-size="30.7" text-anchor="middle">405</text>
<text x="2430.9" y="1899.3" font-size="30.7" text-anchor="middle">405</text>
<text x="2564.1" y="1899.3" font-size="30.7" text-anchor="middle">405</text>
<text x="2697.3" y="1899.3" font-size="30.7" text-anchor="middle">405</text>
<text x="2830.5" y="1899.3" font-size="30.7" text-anchor="middle">405</text>
<text x="2963.7" y="1899.3" font-size="30.7" text-anchor="middle">405</text>
<text x="3096.8" y="1899.3" font-size="30.7" text-anchor="middle">405</text>
<text x="3230.0" y="1899.3" font-size="30.7" text-anchor="middle">405</text>
<text x="3363.2" y="1899.3" font-size="30.7" text-anchor="middle">405</text>
<text x="94.7" y="1946.5" font-size="27.1">F - Space between posts</text>
<text x="133.5" y="1977.0" font-size="27.1">(rafter side)</text>
<text x="699.6" y="1962.9" font-size="30.7" text-anchor="middle">937</text>
<text x="832.8" y="1962.9" font-size="30.7" text-anchor="middle">937</text>
<text x="966.0" y="1962.9" font-size="30.7" text-anchor="middle">937</text>
<text x="1099.1" y="1962.9" font-size="30.7" text-anchor="middle">937</text>
<text x="1232.3" y="1962.9" font-size="30.7" text-anchor="middle">937</text>
<text x="1365.5" y="1962.9" font-size="30.7" text-anchor="middle">937</text>
<text x="1498.7" y="1962.9" font-size="30.7" text-anchor="middle">1537</text>
<text x="1631.9" y="1962.9" font-size="30.7" text-anchor="middle">1537</text>
<text x="1765.0" y="1962.9" font-size="30.7" text-anchor="middle">1537</text>
<text x="1898.2" y="1962.9" font-size="30.7" text-anchor="middle">1537</text>
<text x="2031.4" y="1962.9" font-size="30.7" text-anchor="middle">1537</text>
<text x="2164.6" y="1962.9" font-size="30.7" text-anchor="middle">2137</text>
<text x="2297.8" y="1962.9" font-size="30.7" text-anchor="middle">2137</text>
<text x="2430.9" y="1962.9" font-size="30.7" text-anchor="middle">2137</text>
<text x="2564.1" y="1962.9" font-size="30.7" text-anchor="middle">2137</text>
<text x="2697.3" y="1962.9" font-size="30.7" text-anchor="middle">2737</text>
<text x="2830.5" y="1962.9" font-size="30.7" text-anchor="middle">2737</text>
<text x="2963.7" y="1962.9" font-size="30.7" text-anchor="middle">2737</text>
<text x="3096.8" y="1962.9" font-size="30.7" text-anchor="middle">3337</text>
<text x="3230.0" y="1962.9" font-size="30.7" text-anchor="middle">3337</text>
<text x="3363.2" y="1962.9" font-size="30.7" text-anchor="middle">3937</text>
<text x="94.7" y="2024.5" font-size="27.1">G - Space between posts</text>
<text x="133.5" y="2054.9" font-size="27.1">(main beam side)</text>
<text x="699.6" y="2040.8" font-size="30.7" text-anchor="middle">800</text>
<text x="832.8" y="2040.8" font-size="30.7" text-anchor="middle">1400</text>
<text x="966.0" y="2040.8" font-size="30.7" text-anchor="middle">2000</text>
<text x="1099.1" y="2040.8" font-size="30.7" text-anchor="middle">2600</text>
<text x="1232.3" y="2040.8" font-size="30.7" text-anchor="middle">3200</text>
<text x="1365.5" y="2040.8" font-size="30.7" text-anchor="middle">3800</text>
<text x="1498.7" y="2040.8" font-size="30.7" text-anchor="middle">1400</text>
<text x="1631.9" y="2040.8" font-size="30.7" text-anchor="middle">2000</text>
<text x="1765.0" y="2040.8" font-size="30.7" text-anchor="middle">2600</text>
<text x="1898.2" y="2040.8" font-size="30.7" text-anchor="middle">3200</text>
<text x="2031.4" y="2040.8" font-size="30.7" text-anchor="middle">3800</text>
<text x="2164.6" y="2040.8" font-size="30.7" text-anchor="middle">2000</text>
<text x="2297.8" y="2040.8" font-size="30.7" text-anchor="middle">2600</text>
<text x="2430.9" y="2040.8" font-size="30.7" text-anchor="middle">3200</text>
<text x="2564.1" y="2040.8" font-size="30.7" text-anchor="middle">3800</text>
<text x="2697.3" y="2040.8" font-size="30.7" text-anchor="middle">2600</text>
<text x="2830.5" y="2040.8" font-size="30.7" text-anchor="middle">3200</text>
<text x="2963.7" y="2040.8" font-size="30.7" text-anchor="middle">3800</text>
<text x="3096.8" y="2040.8" font-size="30.7" text-anchor="middle">3200</text>
<text x="3230.0" y="2040.8" font-size="30.7" text-anchor="middle">3800</text>
<text x="3363.2" y="2040.8" font-size="30.7" text-anchor="middle">3800</text>
<text x="94.7" y="2105.1" font-size="27.1">H - Post length</text>
<text x="699.6" y="2105.7" font-size="30.7" text-anchor="middle">2700</text>
<text x="832.8" y="2105.7" font-size="30.7" text-anchor="middle">2700</text>
<text x="966.0" y="2105.7" font-size="30.7" text-anchor="middle">2700</text>
<text x="1099.1" y="2105.7" font-size="30.7" text-anchor="middle">2700</text>
<text x="1232.3" y="2105.7" font-size="30.7" text-anchor="middle">2700</text>
<text x="1365.5" y="2105.7" font-size="30.7" text-anchor="middle">2700</text>
<text x="1498.7" y="2105.7" font-size="30.7" text-anchor="middle">2700</text>
<text x="1631.9" y="2105.7" font-size="30.7" text-anchor="middle">2700</text>
<text x="1765.0" y="2105.7" font-size="30.7" text-anchor="middle">2700</text>
<text x="1898.2" y="2105.7" font-size="30.7" text-anchor="middle">2700</text>
<text x="2031.4" y="2105.7" font-size="30.7" text-anchor="middle">2700</text>
<text x="2164.6" y="2105.7" font-size="30.7" text-anchor="middle">2700</text>
<text x="2297.8" y="2105.7" font-size="30.7" text-anchor="middle">2700</text>
<text x="2430.9" y="2105.7" font-size="30.7" text-anchor="middle">2700</text>
<text x="2564.1" y="2105.7" font-size="30.7" text-anchor="middle">2700</text>
<text x="2697.3" y="2105.7" font-size="30.7" text-anchor="middle">2700</text>
<text x="2830.5" y="2105.7" font-size="30.7" text-anchor="middle">2700</text>
<text x="2963.7" y="2105.7" font-size="30.7" text-anchor="middle">2700</text>
<text x="3096.8" y="2105.7" font-size="30.7" text-anchor="middle">2700</text>
<text x="3230.0" y="2105.7" font-size="30.7" text-anchor="middle">2700</text>
<text x="3363.2" y="2105.7" font-size="30.7" text-anchor="middle">2700</text>
<text x="94.7" y="2155.3" font-size="27.1">I - Height to the lowest point *</text>
<text x="699.6" y="2155.9" font-size="30.7" text-anchor="middle">2610</text>
<text x="832.8" y="2155.9" font-size="30.7" text-anchor="middle">2610</text>
<text x="966.0" y="2155.9" font-size="30.7" text-anchor="middle">2610</text>
<text x="1099.1" y="2155.9" font-size="30.7" text-anchor="middle">2610</text>
<text x="1232.3" y="2155.9" font-size="30.7" text-anchor="middle">2610</text>
<text x="1365.5" y="2155.9" font-size="30.7" text-anchor="middle">2610</text>
<text x="1498.7" y="2155.9" font-size="30.7" text-anchor="middle">2610</text>
<text x="1631.9" y="2155.9" font-size="30.7" text-anchor="middle">2610</text>
<text x="1765.0" y="2155.9" font-size="30.7" text-anchor="middle">2610</text>
<text x="1898.2" y="2155.9" font-size="30.7" text-anchor="middle">2610</text>
<text x="2031.4" y="2155.9" font-size="30.7" text-anchor="middle">2610</text>
<text x="2164.6" y="2155.9" font-size="30.7" text-anchor="middle">2610</text>
<text x="2297.8" y="2155.9" font-size="30.7" text-anchor="middle">2610</text>
<text x="2430.9" y="2155.9" font-size="30.7" text-anchor="middle">2610</text>
<text x="2564.1" y="2155.9" font-size="30.7" text-anchor="middle">2610</text>
<text x="2697.3" y="2155.9" font-size="30.7" text-anchor="middle">2610</text>
<text x="2830.5" y="2155.9" font-size="30.7" text-anchor="middle">2610</text>
<text x="2963.7" y="2155.9" font-size="30.7" text-anchor="middle">2610</text>
<text x="3096.8" y="2155.9" font-size="30.7" text-anchor="middle">2610</text>
<text x="3230.0" y="2155.9" font-size="30.7" text-anchor="middle">2610</text>
<text x="3363.2" y="2155.9" font-size="30.7" text-anchor="middle">2610</text>
<text x="94.5" y="2212" font-size="19.4"><tspan font-size="24" dy="-2">*</tspan><tspan font-size="28" dy="2"> - </tspan>height depends on post length above the surface</text>
<line x1="1299.1" y1="2232.3" x2="2641.6" y2="2232.3" stroke="#1a1a1a" stroke-width="2.4" stroke-linecap="square"/>
<line x1="1299.1" y1="2286.6" x2="2641.6" y2="2286.6" stroke="#1a1a1a" stroke-width="2.4" stroke-linecap="square"/>
<line x1="1299.1" y1="2340.7" x2="2641.6" y2="2340.7" stroke="#1a1a1a" stroke-width="2.4" stroke-linecap="square"/>
<line x1="1299.1" y1="2393.8" x2="2641.6" y2="2393.8" stroke="#1a1a1a" stroke-width="2.4" stroke-linecap="square"/>
<line x1="1299.1" y1="2232.3" x2="1299.1" y2="2393.8" stroke="#1a1a1a" stroke-width="2.4" stroke-linecap="square"/>
<line x1="1509.4" y1="2232.3" x2="1509.4" y2="2393.8" stroke="#1a1a1a" stroke-width="2.4" stroke-linecap="square"/>
<line x1="1698.1" y1="2232.3" x2="1698.1" y2="2393.8" stroke="#1a1a1a" stroke-width="2.4" stroke-linecap="square"/>
<line x1="1886.8" y1="2232.3" x2="1886.8" y2="2393.8" stroke="#1a1a1a" stroke-width="2.4" stroke-linecap="square"/>
<line x1="2075.5" y1="2232.3" x2="2075.5" y2="2393.8" stroke="#1a1a1a" stroke-width="2.4" stroke-linecap="square"/>
<line x1="2264.2" y1="2232.3" x2="2264.2" y2="2393.8" stroke="#1a1a1a" stroke-width="2.4" stroke-linecap="square"/>
<line x1="2452.9" y1="2232.3" x2="2452.9" y2="2393.8" stroke="#1a1a1a" stroke-width="2.4" stroke-linecap="square"/>
<line x1="2641.6" y1="2232.3" x2="2641.6" y2="2393.8" stroke="#1a1a1a" stroke-width="2.4" stroke-linecap="square"/>
<text x="1404.2" y="2272.3" font-size="32.4" font-weight="bold" text-anchor="middle">PART LIST</text>
<text x="1603.8" y="2268.9" font-size="26" text-anchor="middle">RAFTER</text>
<text x="1792.5" y="2268.9" font-size="26" text-anchor="middle">MAIN BEAM</text>
<text x="1981.2" y="2268.9" font-size="26" text-anchor="middle">POSTS</text>
<text x="2169.8" y="2268.9" font-size="26" text-anchor="middle">SHORT braces</text>
<text x="2358.6" y="2268.9" font-size="26" text-anchor="middle">LONG braces</text>
<text x="2547.2" y="2266" font-size="26" text-anchor="middle">SCREW pack</text>
<text x="1404.2" y="2322.2" font-size="25.8" text-anchor="middle">All sizes</text>
<text x="1404.2" y="2376.2" font-size="25.5" text-anchor="middle">4.8x4.8</text>
<text x="1603.8" y="2322.7" font-size="27.5" text-anchor="middle">6</text>
<text x="1603.8" y="2376.7" font-size="27.5" text-anchor="middle">6</text>
<text x="1792.5" y="2322.7" font-size="27.5" text-anchor="middle">2</text>
<text x="1792.5" y="2376.7" font-size="27.5" text-anchor="middle">2</text>
<text x="1981.2" y="2322.7" font-size="27.5" text-anchor="middle">4</text>
<text x="1981.2" y="2376.7" font-size="27.5" text-anchor="middle">6</text>
<text x="2169.8" y="2322.7" font-size="27.5" text-anchor="middle">4</text>
<text x="2169.8" y="2376.7" font-size="27.5" text-anchor="middle">8</text>
<text x="2358.6" y="2322.7" font-size="27.5" text-anchor="middle">4</text>
<text x="2358.6" y="2376.7" font-size="27.5" text-anchor="middle">4</text>
<text x="2547.2" y="2322.7" font-size="27.5" text-anchor="middle">1</text>
<text x="2547.2" y="2376.7" font-size="27.5" text-anchor="middle">1</text>
</g>
<g id="logo">
<defs><clipPath id="lc"><ellipse cx="3016.2" cy="2320.7" rx="95" ry="85.3"/></clipPath></defs>
<g clip-path="url(#lc)"><ellipse cx="3016.2" cy="2320.7" rx="95" ry="85.3" fill="#a8d22e"/>
<rect x="3009.5" y="2200" width="13.5" height="250" fill="#fff"/>
<line x1="3016.2" y1="2293.0" x2="2880" y2="2172.5" stroke="#fff" stroke-width="14"/>
<line x1="3016.2" y1="2293.0" x2="3150" y2="2174.6" stroke="#fff" stroke-width="14"/>
<line x1="3016.2" y1="2340.0" x2="2880" y2="2219.5" stroke="#fff" stroke-width="14"/>
<line x1="3016.2" y1="2340.0" x2="3150" y2="2221.6" stroke="#fff" stroke-width="14"/>
<line x1="3016.2" y1="2386.6" x2="2880" y2="2266.1" stroke="#fff" stroke-width="14"/>
<line x1="3016.2" y1="2386.6" x2="3150" y2="2268.2" stroke="#fff" stroke-width="14"/>
<rect x="3009.5" y="2200" width="13.5" height="250" fill="#fff"/>
</g>
<text transform="translate(3119.8,2368.3) scale(1.08,1)" font-family="Liberation Serif" font-weight="bold" font-size="124" fill="#3e5116">A</text>
<text transform="translate(3214.6,2368.3) scale(1.05,1)" font-family="Liberation Serif" font-weight="bold" font-size="116" fill="#3e5116">r</text>
<text transform="translate(3268.8,2368.3) scale(1.12,1)" font-family="Liberation Serif" font-weight="bold" font-size="118" fill="#3e5116">b</text>
<text transform="translate(3343.4,2368.3) scale(1.2,1)" font-family="Liberation Serif" font-weight="bold" font-size="116" fill="#3e5116">o</text>
<text transform="translate(3414.4,2368.3) scale(1.05,1)" font-family="Liberation Serif" font-weight="bold" font-size="116" fill="#3e5116">r</text>
<text x="3120.5" y="2405.4" font-family="Liberation Serif" font-size="33" fill="#0a0a0a" letter-spacing="2.75">Garden Solutions Ltd.</text>
</g>
</svg></body></html>
